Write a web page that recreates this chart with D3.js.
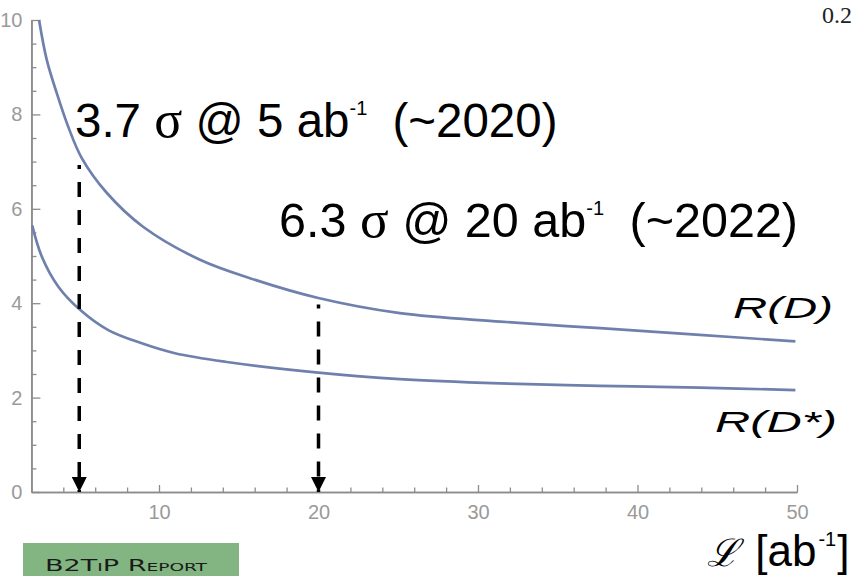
<!DOCTYPE html>
<html>
<head>
<meta charset="utf-8">
<script src="https://cdn.jsdelivr.net/npm/d3@7"></script>
<style>
  body { margin: 0; background: #fff; }
  svg { display: block; }
</style>
</head>
<body>
<svg id="chart" width="861" height="576"></svg>
<script>
// Expected significance vs. integrated luminosity
const rdLumi    = [2.48, 2.96, 3.59, 4.33, 5.15, 6.72, 9.0, 12.57, 15.7, 19.99, 25.1, 31.4, 37.65, 43.9, 49.9];
const rdSignif  = [10.0, 9.16, 8.45, 7.72, 7.08, 6.34, 5.62, 4.92, 4.53, 4.11, 3.79, 3.61, 3.47, 3.33, 3.19];
const rdsLumi   = [2.05, 2.65, 3.69, 5.05, 6.82, 8.92, 11.0, 14.14, 19.99, 25.1, 31.4, 37.65, 43.9, 49.9];
const rdsSignif = [5.65, 4.99, 4.35, 3.86, 3.43, 3.15, 2.94, 2.76, 2.53, 2.39, 2.30, 2.25, 2.21, 2.16];

const xMajorTicks = [10, 20, 30, 40, 50];
const yMajorTicks = [0, 2, 4, 6, 8, 10];

// Dashed arrows marking the quoted luminosities
const arrowLumi = [5, 20];
const arrowTop  = [6.93, 3.97];

const svg = d3.select("#chart");
const x = d3.scaleLinear().domain([2, 50]).range([31.4, 797]);
const y = d3.scaleLinear().domain([0, 10]).range([492, 20]);

const axisColor = "#8c8c8c";
const labelColor = "#9a9a9a";
const curveColor = "#6f80ad";

const xMinor = d3.range(4, 50, 2).filter(v => v % 10 !== 0);
const yMinor = d3.range(0.5, 10, 0.5).filter(v => !yMajorTicks.includes(v));

function styleAxis(g) {
  g.select(".domain").attr("stroke", axisColor).attr("stroke-width", 1.6);
  g.selectAll(".tick line").attr("stroke", axisColor).attr("stroke-width", 1.3);
  g.selectAll(".tick text")
    .attr("fill", labelColor)
    .attr("font-family", "Liberation Sans, Arial, sans-serif")
    .attr("font-size", 20);
}

// x axis: minor then major ticks pointing up into the plot
svg.append("g")
  .attr("transform", `translate(0,${y(0)})`)
  .call(d3.axisBottom(x).tickValues(xMinor).tickSize(-4.5).tickSizeOuter(0).tickFormat(""))
  .call(styleAxis);
svg.append("g")
  .attr("transform", `translate(0,${y(0)})`)
  .call(d3.axisBottom(x).tickValues(xMajorTicks).tickSize(-7).tickSizeOuter(0).tickPadding(13).tickFormat(d3.format("d")))
  .call(styleAxis);

// y axis: ticks pointing right
svg.append("g")
  .attr("transform", `translate(${x(2)},0)`)
  .call(d3.axisLeft(y).tickValues(yMinor).tickSize(-5).tickSizeOuter(0).tickFormat(""))
  .call(styleAxis);
svg.append("g")
  .attr("transform", `translate(${x(2)},0)`)
  .call(d3.axisLeft(y).tickValues(yMajorTicks).tickSize(-9).tickSizeOuter(0).tickPadding(9).tickFormat(d3.format("d")))
  .call(styleAxis);

// curves
const line = d3.line().x(d => x(d[0])).y(d => y(d[1])).curve(d3.curveCatmullRom.alpha(0.5));
[[rdLumi, rdSignif], [rdsLumi, rdsSignif]].forEach(([lx, ly]) => {
  svg.append("path")
    .datum(lx.map((v, i) => [v, ly[i]]))
    .attr("fill", "none")
    .attr("stroke", curveColor)
    .attr("stroke-width", 2.7)
    .attr("stroke-linejoin", "round")
    .attr("d", line);
});

// dashed arrows
const defs = svg.append("defs");
defs.append("marker")
  .attr("id", "arrowhead")
  .attr("viewBox", "0 0 10 10")
  .attr("refX", 10).attr("refY", 5)
  .attr("markerWidth", 15).attr("markerHeight", 15)
  .attr("markerUnits", "userSpaceOnUse")
  .attr("orient", "auto")
  .append("path").attr("d", "M0,0 L10,5 L0,10 Z").attr("fill", "#000");

arrowLumi.forEach((L, i) => {
  svg.append("line")
    .attr("x1", x(L)).attr("x2", x(L))
    .attr("y1", y(arrowTop[i])).attr("y2", y(0))
    .attr("stroke", "#000")
    .attr("stroke-width", 3.5)
    .attr("stroke-dasharray", "15,13")
    .attr("stroke-dashoffset", 11)
    .attr("marker-end", "url(#arrowhead)");
});

// annotation text
const sans = "Liberation Sans, Arial, sans-serif";
function annotation(px, py, size, num, lumi, year) {
  const t = svg.append("text")
    .attr("x", px).attr("y", py)
    .attr("font-family", sans)
    .attr("font-size", size)
    .attr("fill", "#000");
  t.append("tspan").text(num + " ");
  t.append("tspan").attr("font-family", "Liberation Serif, Times New Roman, serif")
    .attr("font-size", size * 1.1).text("σ");
  t.append("tspan").text(" @ " + lumi + " ab");
  t.append("tspan").attr("font-size", 20).attr("dy", -22).text("-1");
  t.append("tspan").attr("dy", 22).attr("dx", 12).text(" (~" + year + ")");
}
annotation(75, 137, 47.5, "3.7", "5", "2020");
annotation(279, 237, 48.5, "6.3", "20", "2022");

// curve labels
svg.append("text")
  .attr("x", 733).attr("y", 318)
  .attr("font-family", sans).attr("font-style", "italic").attr("font-size", 30)
  .attr("textLength", 100).attr("lengthAdjust", "spacingAndGlyphs")
  .text("R(D)");
svg.append("text")
  .attr("x", 715).attr("y", 432)
  .attr("font-family", sans).attr("font-style", "italic").attr("font-size", 30)
  .attr("textLength", 122).attr("lengthAdjust", "spacingAndGlyphs")
  .text("R(D*)");

// axis title
const xt = svg.append("text")
  .attr("x", 707).attr("y", 566)
  .attr("font-family", sans).attr("font-size", 44).attr("fill", "#000");
xt.append("tspan").attr("font-family", "DejaVu Serif, serif").attr("font-style", "italic")
  .attr("font-size", 38).text("ℒ");
xt.append("tspan").attr("dx", 4).text(" [ab");
xt.append("tspan").attr("font-size", 20).attr("dy", -20).attr("dx", 2).text("-1");
xt.append("tspan").attr("dy", 20).attr("dx", 1).text("]");

// top-right page fragment
svg.append("text")
  .attr("x", 822).attr("y", 23)
  .attr("font-family", "Liberation Serif, Times New Roman, serif")
  .attr("font-size", 24).attr("fill", "#222")
  .text("0.2");

// report badge
svg.append("rect")
  .attr("x", 23).attr("y", 543).attr("width", 216).attr("height", 40)
  .attr("fill", "#82b581");
svg.append("text")
  .attr("x", 45).attr("y", 571)
  .attr("font-family", "DejaVu Sans, sans-serif")
  .attr("font-size", 16).attr("fill", "#1a1a1a")
  .attr("font-variant", "small-caps")
  .attr("textLength", 162).attr("lengthAdjust", "spacingAndGlyphs")
  .text("B2TiP Report");
</script>
</body>
</html>
